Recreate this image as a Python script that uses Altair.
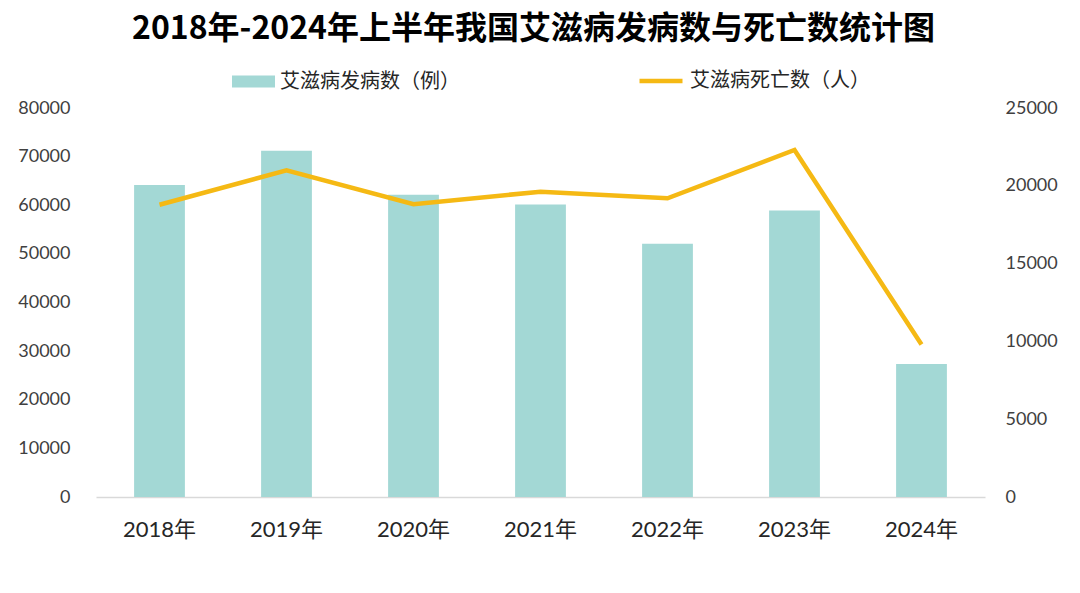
import altair as alt
import pandas as pd

years = ["2018年", "2019年", "2020年", "2021年", "2022年", "2023年", "2024年"]
cases = [64170, 71204, 62167, 60154, 52058, 58903, 27373]
deaths = [18780, 20999, 18819, 19623, 19200, 22300, 9800]
bar_name = "艾滋病发病数（例）"
line_name = "艾滋病死亡数（人）"

df = pd.DataFrame({"year": years, "cases": cases, "deaths": deaths,
                   "s1": [bar_name] * len(years), "s2": [line_name] * len(years)})

FONT = "Lato, Noto Sans CJK SC"
CJK = "Noto Sans CJK SC"

base = alt.Chart(df).encode(
    x=alt.X("year:N", sort=years, title=None,
            scale=alt.Scale(paddingInner=0.6, paddingOuter=0.3),
            axis=alt.Axis(labelAngle=0, labelFontSize=22, labelFont=FONT, labelColor="#262626",
                          ticks=False, domainColor="#D9D9D9", domainWidth=1.5, labelPadding=22))
)

bars = base.mark_bar(color="#A3D8D5").encode(
    y=alt.Y("cases:Q", title=None,
            scale=alt.Scale(domain=[0, 80000], nice=False),
            axis=alt.Axis(values=list(range(0, 80001, 10000)), format="d", grid=False,
                          domain=False, ticks=False, labelFontSize=18, labelFont=FONT,
                          labelColor="#404040", labelPadding=26)),
    color=alt.Color("s1:N", scale=alt.Scale(domain=[bar_name], range=["#A3D8D5"]),
                    legend=alt.Legend(title=None, orient="none", legendX=136, legendY=-48,
                                      symbolType="M-1,-0.28L1,-0.28L1,0.28L-1,0.28Z",
                                      symbolSize=1849, symbolStrokeWidth=0, labelFont=CJK,
                                      labelFontSize=20, labelColor="#262626", labelOffset=5,
                                      labelLimit=0, padding=0)),
)

line = base.mark_line(strokeWidth=4.5, color="#F5B914").encode(
    y=alt.Y("deaths:Q", title=None,
            scale=alt.Scale(domain=[0, 25000], nice=False),
            axis=alt.Axis(orient="right", values=list(range(0, 25001, 5000)), format="d",
                          grid=False, domain=False, ticks=False, labelFontSize=18,
                          labelFont=FONT, labelColor="#404040", labelPadding=20)),
    color=alt.Color("s2:N", scale=alt.Scale(domain=[line_name], range=["#F5B914"]),
                    legend=alt.Legend(title=None, orient="none", legendX=541, legendY=-51,
                                      symbolType="stroke", symbolSize=1849,
                                      symbolStrokeWidth=4.5, labelFont=CJK,
                                      labelFontSize=20, labelColor="#262626", labelOffset=5,
                                      labelLimit=0, padding=0)),
)

chart = alt.layer(bars, line).resolve_scale(y="independent", color="independent").properties(
    width=889, height=389,
    autosize=alt.AutoSizeParams(type="none"),
    padding={"left": 88, "top": 100, "right": 87, "bottom": 88},
    title=alt.TitleParams("2018年-2024年上半年我国艾滋病发病数与死亡数统计图",
                          font=CJK, fontSize=32, fontWeight="bold", color="#000000",
                          anchor="middle", dx=-7, offset=11),
).configure_view(stroke=None)

chart.save("out.html", embed_options={"renderer": "svg", "actions": False})
